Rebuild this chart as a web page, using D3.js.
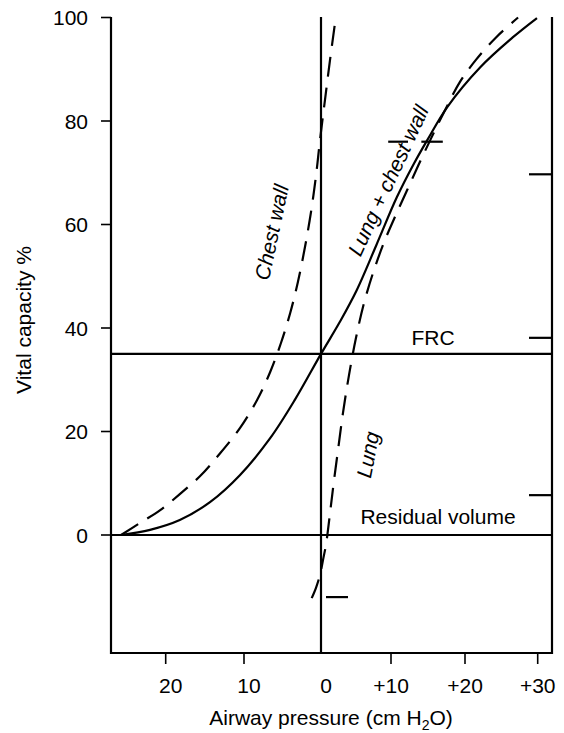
<!DOCTYPE html>
<html>
<head>
<meta charset="utf-8">
<script src="https://cdn.jsdelivr.net/npm/d3@7"></script>
<style>
  body { margin: 0; background: #fff; }
  svg { display: block; }
  text { font-family: "Liberation Sans", Arial, sans-serif; fill: #000; }
</style>
</head>
<body>
<svg id="chart" width="564" height="733"></svg>
<script>
"use strict";

// Axis values: pressure in cm H2O, volume in % of vital capacity
var xTickValues = [-20, -10, 0, 10, 20, 30];
var xTickLabels = ["20", "10", "0", "+10", "+20", "+30"];
var yTickValues = [0, 20, 40, 60, 80, 100];

var frcLevel = 35;        // FRC line
var rvLevel = 0;          // residual volume line
var rightMarks = [69.7, 38.1, 7.7];

// curves: [pressure, volume]
var chestWall = [
    [-25.7, 0], [-23.3, 2.3], [-20.7, 4.8], [-18.2, 7.9], [-15.6, 11.4],
    [-13.1, 15.7], [-10.5, 20.7], [-8.3, 26.1], [-6.6, 31.5], [-5.2, 37.1],
    [-4.0, 42.9], [-3.0, 48.9], [-2.1, 55.5], [-1.3, 62.4], [-0.65, 69.4],
    [-0.13, 76.3], [0.57, 84.1], [1.29, 91.8], [2.1, 99.9]
];

var lungChestWall = [
    [-25.7, 0], [-22.0, 1.0], [-18.2, 2.9], [-14.3, 6.4], [-10.5, 11.6],
    [-6.6, 18.7], [-3.4, 26.1], [0, 35], [2.7, 41.2], [5.1, 47.3],
    [7.9, 56.0], [10.8, 65.3], [13.0, 71.5], [14.9, 76.3], [17.6, 82.7],
    [22.1, 90.4], [26.6, 96.2], [29.9, 99.9]
];

var lung = [
    [-1.21, -12.2], [-0.65, -10.2], [-0.13, -7.7], [0.29, -4.8], [0.71, -1.9],
    [1.0, 1.0], [1.43, 5.8], [1.86, 10.6], [2.43, 16.4], [3.14, 23.6],
    [4.0, 30.9], [5.0, 38.1], [6.14, 44.8], [7.57, 51.2], [9.14, 57.0],
    [10.7, 62.0], [12.2, 66.7], [13.65, 71.3], [15.3, 76.3], [17.3, 82.1],
    [19.3, 87.5], [21.5, 91.8], [24.3, 96.2], [27.3, 100]
];

// short horizontal marks on the curves: [p0, p1, volume]
var curveMarks = [[9.6, 12.3, 76], [14.1, 17.0, 76], [0.71, 3.86, -12]];

// rotated curve labels: [text, pressure, volume, angle]
var curveLabels = [
    ["Chest wall", -6.4, 58.5, -78],
    ["Lung + chest wall", 9.6, 68.5, -65],
    ["Lung", 6.7, 15.5, -79]
];

var svg = d3.select("#chart");
var plotLeft = 111, plotRight = 552, plotTop = 17, plotBottom = 653;
var fontSize = 21;

var x = d3.scaleLinear()
    .domain(xTickValues)
    .range([165.7, 244, 321, 391, 465, 537.7]);

var y = d3.scaleLinear()
    .domain([0, 100])
    .range([535, 17.5]);

var stroke = 2.2;

// frame: left, bottom, right
var frame = svg.append("g")
    .attr("stroke", "#000")
    .attr("stroke-width", stroke)
    .attr("fill", "none");

frame.append("path")
    .attr("d", "M" + plotLeft + "," + plotTop + "V" + plotBottom + "H" + plotRight + "V" + plotTop);

// zero pressure line
frame.append("line")
    .attr("x1", x(0)).attr("x2", x(0))
    .attr("y1", plotTop).attr("y2", plotBottom);

// FRC and RV lines
[frcLevel, rvLevel].forEach(function (v) {
    frame.append("line")
        .attr("x1", plotLeft).attr("x2", plotRight)
        .attr("y1", y(v)).attr("y2", y(v));
});

svg.append("text")
    .attr("x", 433).attr("y", y(frcLevel) - 9)
    .attr("text-anchor", "middle")
    .attr("font-size", fontSize)
    .text("FRC");

svg.append("text")
    .attr("x", 438).attr("y", y(rvLevel) - 11)
    .attr("text-anchor", "middle")
    .attr("font-size", fontSize)
    .text("Residual volume");

// y ticks
var yAxis = svg.append("g");
yAxis.selectAll(".ytick")
    .data(yTickValues)
    .enter()
    .append("line")
    .attr("class", "ytick")
    .attr("x1", plotLeft - 10).attr("x2", plotLeft)
    .attr("y1", function (d) { return y(d); })
    .attr("y2", function (d) { return y(d); })
    .attr("stroke", "#000").attr("stroke-width", 1.6);

yAxis.selectAll(".ylabel")
    .data(yTickValues)
    .enter()
    .append("text")
    .attr("class", "ylabel")
    .attr("x", 88)
    .attr("y", function (d) { return y(d) + 7.5; })
    .attr("text-anchor", "end")
    .attr("font-size", fontSize)
    .text(function (d) { return d; });

svg.append("text")
    .attr("transform", "translate(31,320) rotate(-90)")
    .attr("text-anchor", "middle")
    .attr("font-size", fontSize)
    .text("Vital capacity %");

// x ticks (none under the zero line)
var xAxis = svg.append("g");
xAxis.selectAll(".xtick")
    .data(xTickValues.filter(function (d) { return d !== 0; }))
    .enter()
    .append("line")
    .attr("class", "xtick")
    .attr("x1", function (d) { return x(d); })
    .attr("x2", function (d) { return x(d); })
    .attr("y1", plotBottom).attr("y2", plotBottom + 11)
    .attr("stroke", "#000").attr("stroke-width", 1.6);

xAxis.selectAll(".xlabel")
    .data(xTickValues)
    .enter()
    .append("text")
    .attr("class", "xlabel")
    .attr("x", function (d, i) { return x(d) + (xTickLabels[i].charAt(0) === "+" ? 0 : 5); })
    .attr("y", 693)
    .attr("text-anchor", "middle")
    .attr("font-size", fontSize)
    .text(function (d, i) { return xTickLabels[i]; });

var xTitle = svg.append("text")
    .attr("x", 331)
    .attr("y", 725)
    .attr("text-anchor", "middle")
    .attr("font-size", fontSize);
xTitle.append("tspan").text("Airway pressure (cm H");
xTitle.append("tspan").attr("font-size", 14).attr("dy", 5).text("2");
xTitle.append("tspan").attr("dy", -5).text("O)");

// right side marks
svg.selectAll(".rmark")
    .data(rightMarks)
    .enter()
    .append("line")
    .attr("class", "rmark")
    .attr("x1", plotRight - 23).attr("x2", plotRight)
    .attr("y1", function (d) { return y(d); })
    .attr("y2", function (d) { return y(d); })
    .attr("stroke", "#000").attr("stroke-width", stroke);

// marks on curves
svg.selectAll(".cmark")
    .data(curveMarks)
    .enter()
    .append("line")
    .attr("class", "cmark")
    .attr("x1", function (d) { return x(d[0]); })
    .attr("x2", function (d) { return x(d[1]); })
    .attr("y1", function (d) { return y(d[2]); })
    .attr("y2", function (d) { return y(d[2]); })
    .attr("stroke", "#000").attr("stroke-width", stroke);

// curves
var line = d3.line()
    .x(function (d) { return x(d[0]); })
    .y(function (d) { return y(d[1]); })
    .curve(d3.curveCatmullRom);

svg.append("path")
    .datum(lungChestWall)
    .attr("d", line)
    .attr("fill", "none")
    .attr("stroke", "#000")
    .attr("stroke-width", stroke);

[chestWall, lung].forEach(function (c) {
    svg.append("path")
        .datum(c)
        .attr("d", line)
        .attr("fill", "none")
        .attr("stroke", "#000")
        .attr("stroke-width", stroke)
        .attr("stroke-dasharray", "20,11");
});

// curve labels
svg.selectAll(".clabel")
    .data(curveLabels)
    .enter()
    .append("text")
    .attr("class", "clabel")
    .attr("transform", function (d) {
        return "translate(" + x(d[1]) + "," + y(d[2]) + ") rotate(" + d[3] + ")";
    })
    .attr("dy", "0.35em")
    .attr("text-anchor", "middle")
    .attr("font-size", fontSize)
    .attr("font-style", "italic")
    .text(function (d) { return d[0]; });
</script>
</body>
</html>
